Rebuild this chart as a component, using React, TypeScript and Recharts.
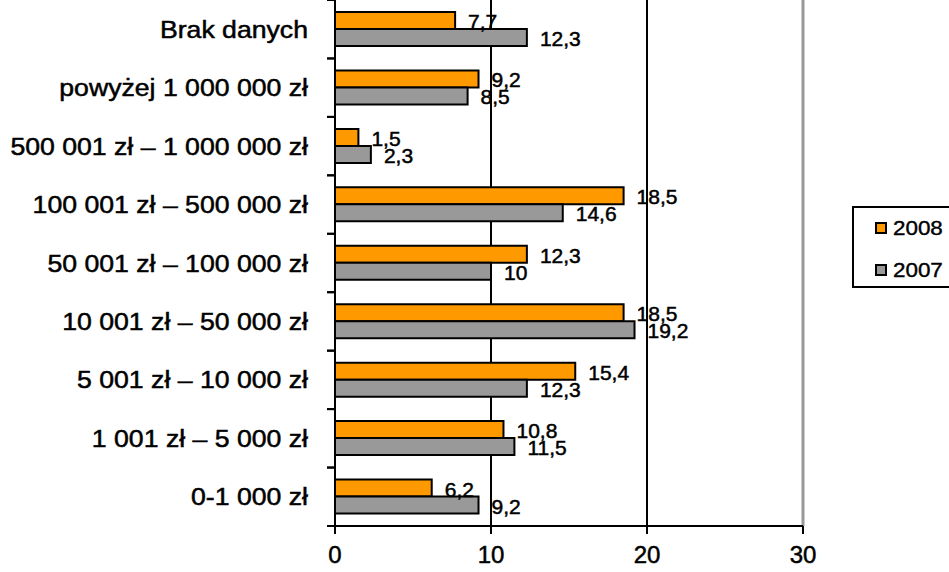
import React from 'react';
import { BarChart, Bar, XAxis, YAxis, CartesianGrid, ReferenceLine, LabelList } from 'recharts';

const categories = [
  'Brak danych',
  'powyżej 1 000 000 zł',
  '500 001 zł – 1 000 000 zł',
  '100 001 zł – 500 000 zł',
  '50 001 zł – 100 000 zł',
  '10 001 zł – 50 000 zł',
  '5 001 zł – 10 000 zł',
  '1 001 zł – 5 000 zł',
  '0-1 000 zł',
];
const values2008 = [7.7, 9.2, 1.5, 18.5, 12.3, 18.5, 15.4, 10.8, 6.2];
const values2007 = [12.3, 8.5, 2.3, 14.6, 10, 19.2, 12.3, 11.5, 9.2];
const xTicks = [0, 10, 20, 30];
const seriesNames = ['2008', '2007'];
const seriesColors = ['#FF9900', '#999999'];

const data = categories.map((name, i) => ({ name, v2008: values2008[i], v2007: values2007[i] }));

const FONT = '"Liberation Sans", Arial, sans-serif';

const fmt = (v: number) => String(v).replace('.', ',');

const YTick = (props: any) => {
  const { x, y, payload } = props;
  const half = payload && payload.offset ? payload.offset : 29;
  const axisX = x + 2;
  return (
    <g>
      <line x1={axisX - 8} x2={axisX} y1={y - half} y2={y - half} stroke="#000" strokeWidth={2} />
      <line x1={axisX - 8} x2={axisX} y1={y + half} y2={y + half} stroke="#000" strokeWidth={2} />
      <text
        transform={`translate(${axisX - 27},${y}) scale(1.11,1)`}
        textAnchor="end"
        dominantBaseline="central"
        fontSize={24}
        fontFamily={FONT}
        fill="#000"
        stroke="#000"
        strokeWidth={0.5}
      >
        {payload.value}
      </text>
    </g>
  );
};

const ValueLabel = (props: any) => {
  const { x, y, width, height, value } = props;
  return (
    <text
      x={x + width + 13}
      y={y + height / 2 + 1}
      dominantBaseline="central"
      fontSize={21}
      fontFamily={FONT}
      fill="#000"
      stroke="#000"
      strokeWidth={0.5}
    >
      {fmt(value)}
    </text>
  );
};

export default function App() {
  return (
    <div style={{ position: 'absolute', left: 0, top: 0, width: 949, height: 572, overflow: 'hidden', background: '#fff' }}>
      <BarChart
        layout="vertical"
        width={949}
        height={572}
        data={data}
        margin={{ top: 0, right: 146, bottom: 0, left: 0 }}
        barGap={0}
      >
        <CartesianGrid horizontal={false} vertical={true} stroke="#000" strokeWidth={2} />
        <XAxis
          type="number"
          domain={[0, 30]}
          ticks={xTicks}
          height={46}
          axisLine={{ stroke: '#000', strokeWidth: 2 }}
          tickLine={{ stroke: '#000', strokeWidth: 2 }}
          tickSize={8}
          tick={{ fontSize: 24, fill: '#000', fontFamily: FONT, dy: 10, stroke: '#000', strokeWidth: 0.5 }}
        />
        <YAxis
          type="category"
          dataKey="name"
          width={335}
          axisLine={{ stroke: '#000', strokeWidth: 2 }}
          tickLine={false}
          tickSize={0}
          tick={<YTick />}
          interval={0}
        />
        <ReferenceLine x={30} stroke="#999999" strokeWidth={3} />
        <Bar dataKey="v2008" barSize={17} fill={seriesColors[0]} stroke="#000" strokeWidth={2} isAnimationActive={false}>
          <LabelList dataKey="v2008" content={<ValueLabel />} />
        </Bar>
        <Bar dataKey="v2007" barSize={17} fill={seriesColors[1]} stroke="#000" strokeWidth={2} isAnimationActive={false}>
          <LabelList dataKey="v2007" content={<ValueLabel />} />
        </Bar>
      </BarChart>
      <div
        style={{
          position: 'absolute',
          left: 852,
          top: 206,
          width: 120,
          height: 82,
          border: '2px solid #000',
          boxSizing: 'border-box',
          fontFamily: FONT,
          background: '#fff',
        }}
      >
        {seriesNames.map((n, i) => (
          <div key={n} style={{ position: 'absolute', left: 21, top: 8 + i * 42, height: 24, display: 'flex', alignItems: 'center' }}>
            <div style={{ width: 12, height: 12, background: seriesColors[i], border: '2px solid #000', boxSizing: 'border-box' }} />
            <span style={{ marginLeft: 6, fontSize: 20, color: '#000', display: 'inline-block', transform: 'scale(1.12,1)', transformOrigin: 'left center', WebkitTextStroke: '0.4px #000' }}>{n}</span>
          </div>
        ))}
      </div>
    </div>
  );
}
